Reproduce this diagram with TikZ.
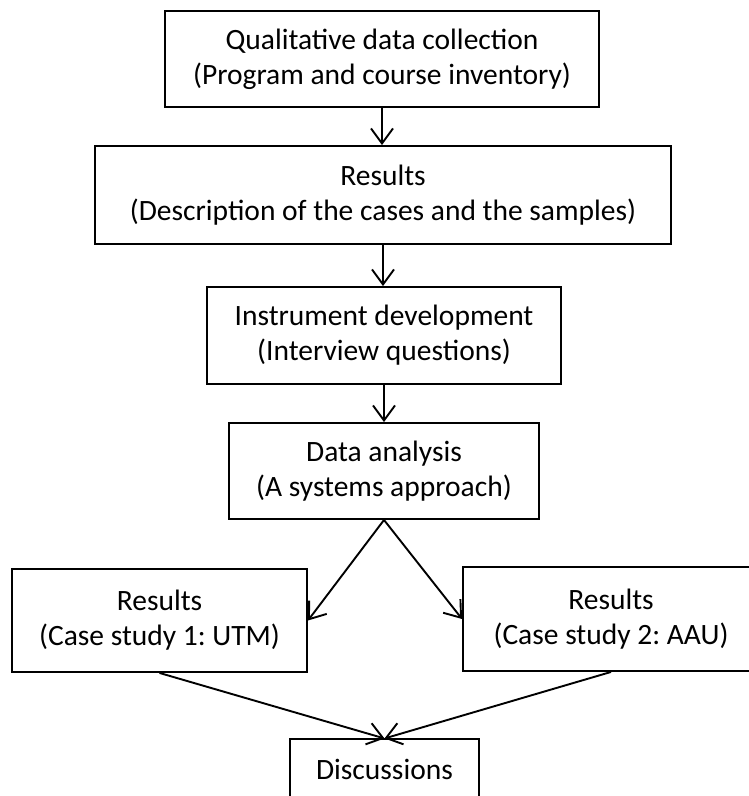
\documentclass[tikz,border=0pt]{standalone}
\usepackage{fontspec}
\setmainfont{Carlito}
\frenchspacing
\usetikzlibrary{arrows.meta}
\begin{document}
\begin{tikzpicture}[x=1pt,y=-1pt,
  box/.style={draw=black, line width=1.9pt, inner sep=0pt, align=center,
    font=\fontsize{29.5}{35}\selectfont},
  conn/.style={line width=1.9pt, -{Straight Barb[length=15pt,width=22pt]}}]
\useasboundingbox (0,0) rectangle (749,796);
\clip (0,0) rectangle (749,796);
\node[box, minimum width=434pt, minimum height=96pt] (b1) at (382,59)
  {Qualitative data collection\\(Program and course inventory)};
\node[box, minimum width=576pt, minimum height=98pt] (b2) at (383,195)
  {Results\\(Description of the cases and the samples)};
\node[box, minimum width=354pt, minimum height=97pt] (b3) at (384,335.5)
  {Instrument development\\(Interview questions)};
\node[box, minimum width=310pt, minimum height=96pt] (b4) at (384,471)
  {Data analysis\\(A systems approach)};
\node[box, minimum width=295pt, minimum height=103pt] (r1) at (159.5,620.5)
  {Results\\(Case study 1:\ UTM)};
\node[box, minimum width=296pt, minimum height=104pt] (r2) at (611,619)
  {Results\\(Case study 2:\ AAU)};
\node[box, line width=1.1pt, minimum width=189pt, minimum height=60pt] (d) at (384.5,769)
  {Discussions};
\draw[conn] (b1.south) -- (b1.south |- b2.north);
\draw[conn] (b2.south) -- (b2.south |- b3.north);
\draw[conn] (b3.south) -- (b3.south |- b4.north);
\draw[conn] (b4.south) -- (r1.east);
\draw[conn] (b4.south) -- (r2.west);
\draw[conn] (r1.south) -- (d.north);
\draw[conn] (r2.south) -- (d.north);
\end{tikzpicture}
\end{document}
